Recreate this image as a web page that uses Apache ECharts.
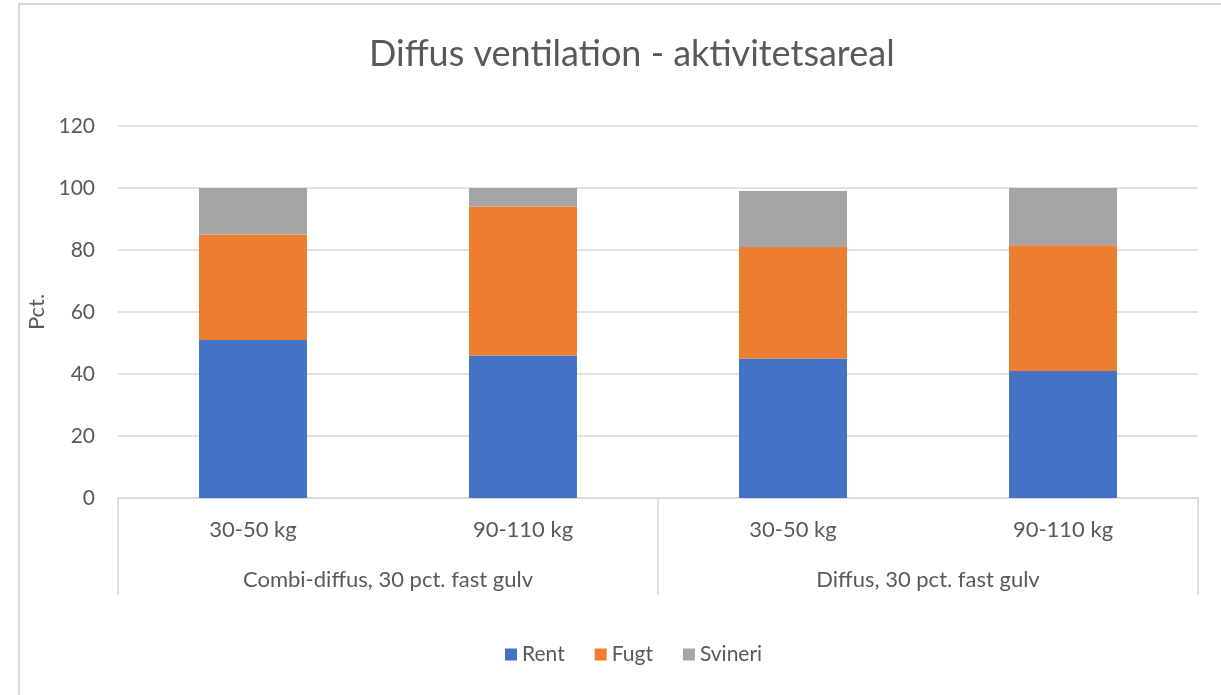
<!DOCTYPE html>
<html>
<head>
<meta charset="utf-8">
<script src="https://cdn.jsdelivr.net/npm/echarts@6/dist/echarts.min.js"></script>
<style>
  html, body { margin: 0; padding: 0; background: #fff; }
  #chart { width: 1221px; height: 695px; }
</style>
</head>
<body>
<div id="chart"></div>
<script>
var weights = ['30-50 kg', '90-110 kg', '30-50 kg', '90-110 kg'];
var groups = ['Combi-diffus, 30 pct. fast gulv', 'Diffus, 30 pct. fast gulv'];
var rent = [51, 46, 45, 41];
var fugt = [34, 48, 36, 40.5];
var svineri = [15, 6, 18, 18.5];

var font = 'Lato, "Open Sans", sans-serif';
var txt = '#595959';

var chart = echarts.init(document.getElementById('chart'));
chart.setOption({
  animation: false,
  textStyle: { fontFamily: font },
  title: {
    text: 'Diffus ventilation - aktivitetsareal',
    left: 364, top: 31,
    textStyle: { fontFamily: font, fontSize: 36, fontWeight: 'normal', color: txt }
  },
  legend: {
    bottom: 25, left: 500,
    itemWidth: 12, itemHeight: 12, itemGap: 30,
    icon: 'rect',
    textStyle: { fontFamily: font, fontSize: 21, color: txt }
  },
  grid: { left: 118, right: 23, top: 126, bottom: 197 },
  graphic: [{
    type: 'rect',
    shape: { x: 19, y: 4, width: 1300, height: 800 },
    style: { fill: 'none', stroke: '#d9d9d9', lineWidth: 2 },
    silent: true
  }],
  xAxis: [{
    type: 'category',
    data: weights,
    axisLine: { lineStyle: { color: '#d9d9d9', width: 1.5 } },
    axisTick: { show: false },
    axisLabel: { color: txt, fontSize: 22, margin: 21, fontFamily: font }
  }, {
    type: 'category',
    data: groups,
    position: 'bottom',
    axisLine: { show: false },
    axisTick: { show: true, length: 97, lineStyle: { color: '#d9d9d9', width: 1.5 } },
    axisLabel: { color: txt, fontSize: 22, margin: 71, fontFamily: font }
  }],
  yAxis: {
    type: 'value',
    min: 0, max: 120, interval: 20,
    name: 'Pct.',
    nameLocation: 'middle',
    nameGap: 68,
    nameTextStyle: { color: txt, fontSize: 22, fontFamily: font },
    axisLine: { show: false },
    axisTick: { show: false },
    axisLabel: { color: txt, fontSize: 21, margin: 23, fontFamily: font },
    splitLine: { lineStyle: { color: '#d9d9d9', width: 1.5 } }
  },
  series: [
    { name: 'Rent', type: 'bar', stack: 's', data: rent, barWidth: 108, itemStyle: { color: '#4472C4' } },
    { name: 'Fugt', type: 'bar', stack: 's', data: fugt, barWidth: 108, itemStyle: { color: '#ED7D31' } },
    { name: 'Svineri', type: 'bar', stack: 's', data: svineri, barWidth: 108, itemStyle: { color: '#A5A5A5' } }
  ]
});
</script>
</body>
</html>
